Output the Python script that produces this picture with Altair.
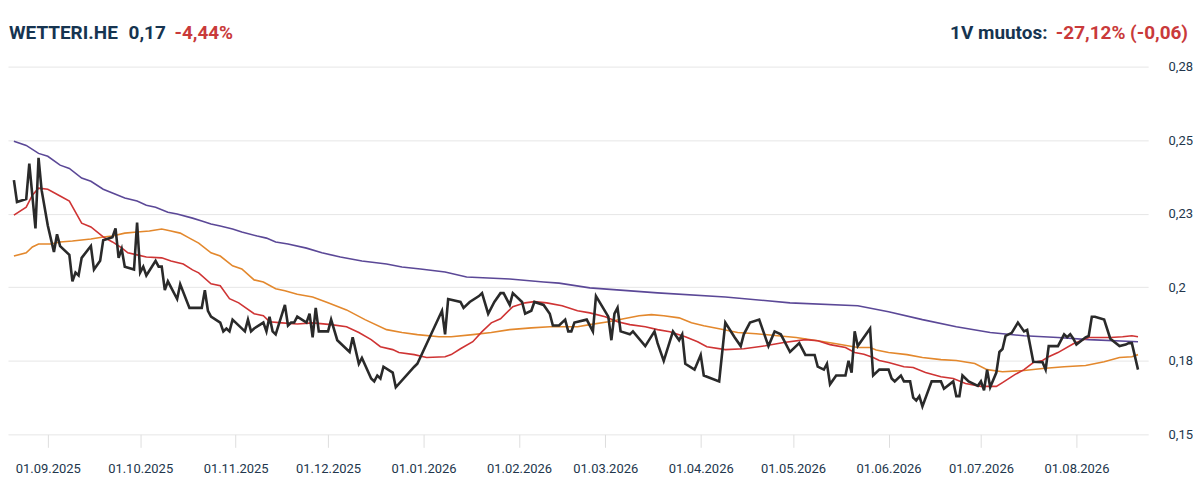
import altair as alt
import pandas as pd

BASE = pd.Timestamp("2025-09-01")

# Daily close (days relative to 01.09.2025)
price_day = [
    -11, -10, -7, -6, -4, -3, -2, 0, 2, 3,
    4, 7, 8, 9, 10, 11, 14, 15, 17, 18,
    21, 22, 23, 24, 25, 28, 29, 30, 31, 32,
    35, 36, 37, 38, 39, 42, 43, 46, 50, 51,
    52, 53, 56, 57, 58, 59, 60, 64, 65, 66,
    67, 70, 71, 72, 73, 74, 77, 78, 79, 80,
    81, 84, 85, 86, 87, 88, 91, 92, 94, 98,
    99, 101, 102, 105, 106, 107, 108, 109, 112, 113,
    119, 120, 128, 129, 130, 134, 135, 137, 140, 141,
    143, 145, 147, 148, 150, 151, 154, 155, 157, 158,
    161, 163, 164, 166, 168, 169, 170, 171, 175, 177,
    178, 182, 183, 184, 185, 186, 189, 190, 194, 197,
    198, 200, 203, 205, 206, 207, 210, 212, 213, 218,
    220, 223, 225, 226, 228, 231, 234, 236, 238, 239,
    241, 244, 246, 249, 250, 252, 253, 254, 256, 259,
    260, 261, 262, 263, 267, 268, 270, 273, 274, 275,
    277, 278, 280, 281, 282, 283, 284, 287, 289, 290,
    291, 294, 295, 296, 297, 299, 302, 303, 304, 305,
    306, 308, 309, 310, 311, 313, 315, 317, 318, 320,
    323, 324, 325, 328, 330, 331, 332, 333, 334, 337,
    338, 339, 340, 343, 345, 348, 350, 351, 352, 354,
]
price_value = [
    0.2364, 0.229, 0.230, 0.242, 0.220, 0.244, 0.233, 0.221, 0.212, 0.218,
    0.214, 0.211, 0.202, 0.205, 0.204, 0.210, 0.214, 0.206, 0.209, 0.216,
    0.217, 0.220, 0.210, 0.213, 0.207, 0.206, 0.222, 0.205, 0.207, 0.204,
    0.209, 0.207, 0.207, 0.199, 0.202, 0.196, 0.201, 0.193, 0.193, 0.199,
    0.192, 0.190, 0.188, 0.185, 0.186, 0.185, 0.189, 0.185, 0.189, 0.185,
    0.186, 0.188, 0.185, 0.190, 0.185, 0.184, 0.194, 0.187, 0.188, 0.188,
    0.190, 0.188, 0.191, 0.183, 0.193, 0.185, 0.185, 0.189, 0.182, 0.178,
    0.183, 0.174, 0.176, 0.169, 0.168, 0.170, 0.169, 0.173, 0.171, 0.166,
    0.173, 0.174, 0.192, 0.184, 0.196, 0.195, 0.193, 0.195, 0.197, 0.198,
    0.191, 0.195, 0.198, 0.198, 0.194, 0.198, 0.195, 0.191, 0.192, 0.195,
    0.194, 0.191, 0.187, 0.187, 0.189, 0.185, 0.185, 0.188, 0.189, 0.185,
    0.197, 0.190, 0.182, 0.191, 0.193, 0.185, 0.184, 0.185, 0.180, 0.185,
    0.181, 0.175, 0.185, 0.182, 0.184, 0.174, 0.172, 0.177, 0.170, 0.168,
    0.188, 0.183, 0.180, 0.184, 0.188, 0.189, 0.180, 0.185, 0.184, 0.182,
    0.178, 0.181, 0.177, 0.177, 0.173, 0.172, 0.174, 0.167, 0.170, 0.170,
    0.175, 0.171, 0.185, 0.180, 0.186, 0.170, 0.172, 0.172, 0.169, 0.168,
    0.170, 0.168, 0.168, 0.1625, 0.1615, 0.163, 0.1595, 0.168, 0.168, 0.168,
    0.1655, 0.168, 0.163, 0.163, 0.170, 0.168, 0.1665, 0.168, 0.165, 0.172,
    0.166, 0.171, 0.178, 0.179, 0.1835, 0.1845, 0.188, 0.185, 0.1855, 0.1747,
    0.1745, 0.172, 0.180, 0.180, 0.184, 0.183, 0.184, 0.1825, 0.1805, 0.183,
    0.1835, 0.190, 0.190, 0.189, 0.1825, 0.180, 0.1805, 0.181, 0.181, 0.172,
]

# Long moving average (purple)
ma_long_day = [
    -11, -7, -3, 0, 4, 7, 11, 14, 18, 21,
    25, 29, 32, 35, 39, 42, 47, 50, 53, 56,
    60, 63, 68, 71, 74, 78, 84, 89, 95, 102,
    110, 115, 121, 129, 136, 150, 161, 166, 176, 198,
    220, 241, 263, 273, 284, 295, 306, 317, 328, 338,
    354,
]
ma_long_value = [
    0.2496, 0.2482, 0.2455, 0.2445, 0.2415, 0.2404, 0.2371, 0.2360, 0.2333, 0.2320,
    0.2303, 0.2293, 0.2279, 0.2272, 0.2255, 0.2249, 0.2235, 0.2225, 0.2215, 0.2208,
    0.2198, 0.2188, 0.2174, 0.2167, 0.2154, 0.2147, 0.2133, 0.2117, 0.2103, 0.2089,
    0.2079, 0.2069, 0.2062, 0.2052, 0.2035, 0.2028, 0.2018, 0.2014, 0.1998, 0.1981,
    0.1967, 0.1947, 0.1937, 0.1917, 0.1890, 0.1866, 0.1846, 0.1835, 0.1829, 0.1822,
    0.1815,
]

# Short moving average (red)
ma_short_day = [
    -11, -7, -5, -3, 0, 4, 7, 11, 14, 18,
    21, 24, 26, 29, 32, 37, 40, 44, 47, 49,
    53, 56, 59, 62, 67, 70, 72, 76, 81, 86,
    92, 97, 101, 105, 108, 112, 114, 119, 123, 129,
    131, 134, 138, 141, 144, 147, 151, 155, 158, 162,
    167, 172, 176, 181, 185, 189, 194, 198, 202, 207,
    211, 214, 220, 226, 233, 239, 246, 250, 254, 259,
    262, 265, 268, 270, 273, 278, 281, 285, 290, 294,
    298, 303, 308, 310, 314, 317, 320, 323, 325, 328,
    333, 338, 345, 349, 352, 354,
]
ma_short_value = [
    0.2245, 0.2272, 0.2313, 0.2337, 0.2333, 0.2310, 0.2293, 0.2218, 0.2205, 0.2171,
    0.2154, 0.2134, 0.2117, 0.2110, 0.2103, 0.2100, 0.2089, 0.2079, 0.2059, 0.2049,
    0.2012, 0.2005, 0.1961, 0.1947, 0.1910, 0.1903, 0.1883, 0.1879, 0.1875, 0.1879,
    0.1873, 0.1866, 0.1846, 0.1822, 0.1798, 0.1788, 0.1778, 0.1771, 0.1761, 0.1764,
    0.1771, 0.1791, 0.1815, 0.1849, 0.1879, 0.1893, 0.1934, 0.1947, 0.1951, 0.1947,
    0.1937, 0.1920, 0.1913, 0.1900, 0.1883, 0.1873, 0.1866, 0.1856, 0.1849, 0.1832,
    0.1815, 0.1798, 0.1788, 0.1791, 0.1801, 0.1812, 0.1822, 0.1818, 0.1805, 0.1795,
    0.1778, 0.1772, 0.1761, 0.1751, 0.1744, 0.1730, 0.1727, 0.1710, 0.1696, 0.1690,
    0.1673, 0.1663, 0.1663, 0.1676, 0.1703, 0.1720, 0.1744, 0.1751, 0.1764, 0.1778,
    0.1808, 0.1829, 0.1829, 0.1832, 0.1835, 0.1832,
]

# Medium moving average (orange)
ma_mid_day = [
    -11, -7, -5, -3, 1, 4, 8, 14, 18, 21,
    25, 29, 33, 37, 40, 43, 46, 49, 53, 56,
    60, 63, 67, 70, 74, 77, 81, 86, 91, 97,
    103, 110, 115, 120, 127, 131, 138, 144, 150, 157,
    163, 172, 176, 182, 187, 192, 196, 200, 205, 209,
    213, 218, 224, 230, 237, 243, 250, 256, 263, 267,
    269, 273, 279, 284, 290, 295, 301, 305, 310, 317,
    323, 330, 337, 343, 348, 352, 354,
]
ma_mid_value = [
    0.2106, 0.2117, 0.2137, 0.2147, 0.2147, 0.2154, 0.2157, 0.2164, 0.2171, 0.2174,
    0.2184, 0.2188, 0.2191, 0.2198, 0.2191, 0.2184, 0.2167, 0.2150, 0.2117, 0.2106,
    0.2073, 0.2062, 0.2025, 0.2018, 0.1995, 0.1988, 0.1976, 0.1967, 0.1947, 0.1923,
    0.1890, 0.1856, 0.1846, 0.1839, 0.1832, 0.1832, 0.1839, 0.1846, 0.1856, 0.1862,
    0.1866, 0.1866, 0.1873, 0.1883, 0.1893, 0.1903, 0.1907, 0.1903, 0.1896, 0.1879,
    0.1869, 0.1859, 0.1846, 0.1842, 0.1835, 0.1829, 0.1818, 0.1808, 0.1795, 0.1795,
    0.1787, 0.1778, 0.1771, 0.1761, 0.1754, 0.1751, 0.1741, 0.1720, 0.1713, 0.1717,
    0.1724, 0.1730, 0.1734, 0.1747, 0.1761, 0.1764, 0.1771,
]

y_ticks = [0.15, 0.175, 0.2, 0.225, 0.25, 0.275]

NAVY = "#163450"
RED_TXT = "#c93a3a"
AXIS_TXT = "#22364c"


def frame(days, values):
    dates = (BASE + pd.to_timedelta(days, unit="D")).strftime("%Y-%m-%d")
    return pd.DataFrame({"date": list(dates), "value": values})


x_enc = alt.X(
    "date:T",
    scale=alt.Scale(
        type="utc",
        domain=[
            alt.DateTime(year=2025, month=8, date=19, hours=2, utc=True),
            alt.DateTime(year=2026, month=8, date=24, hours=7, utc=True),
        ],
    ),
    axis=alt.Axis(
        format="%d.%m.%Y",
        tickCount={"interval": "month", "step": 1},
        grid=False,
        domain=False,
        ticks=True,
        tickColor="#dedede",
        tickSize=13,
        labelPadding=15,
        labelFont="Roboto",
        labelFontSize=13,
        labelColor=AXIS_TXT,
        labelFlush=False,
        labelOverlap=False,
        title=None,
    ),
)
y_enc = alt.Y(
    "value:Q",
    scale=alt.Scale(domain=[0.15, 0.275], nice=False, zero=False),
    axis=alt.Axis(
        orient="right",
        values=y_ticks,
        labelExpr="replace(toString(round(datum.value*100)/100), '.', ',')",
        grid=True,
        gridColor="#e6e6e6",
        gridWidth=1,
        domain=False,
        ticks=False,
        labelPadding=20,
        labelFont="Roboto",
        labelFontSize=13,
        labelColor=AXIS_TXT,
        labelBaseline="middle",
        title=None,
    ),
)


def line(days, values, color, width):
    return alt.Chart(frame(days, values)).mark_line(
        color=color, strokeWidth=width, interpolate="linear"
    ).encode(x=x_enc, y=y_enc)


purple = line(ma_long_day, ma_long_value, "#5b4897", 1.6)
orange = line(ma_mid_day, ma_mid_value, "#e3882d", 1.6)
red = line(ma_short_day, ma_short_value, "#cf3434", 1.6)
price = line(price_day, price_value, "#2a2a2a", 2.6)

HEAD_FONT = "Roboto"
one = pd.DataFrame({"k": [0]})


def head(text, x, color, align="left"):
    return alt.Chart(one).mark_text(
        text=text, align=align, baseline="alphabetic", font=HEAD_FONT,
        fontSize=19, fontWeight="bold", color=color,
    ).encode(x=alt.value(x), y=alt.value(-28))


titles = [
    head("WETTERI.HE", 1, NAVY),
    head("0,17", 121, NAVY),
    head("-4,44%", 167, RED_TXT),
    head("1V muutos:", 1043, NAVY, "right"),
    head("-27,12% (-0,06)", 1184, RED_TXT, "right"),
]

chart = alt.layer(purple, orange, red, price, *titles).properties(
    width=1144,
    height=369,
    autosize=alt.AutoSizeParams(type="none"),
    padding={"left": 0, "top": 58, "right": 45, "bottom": 46},
    background="white",
).configure_view(stroke=None)

chart.save("out.html", embed_options={"renderer": "svg", "actions": False})
